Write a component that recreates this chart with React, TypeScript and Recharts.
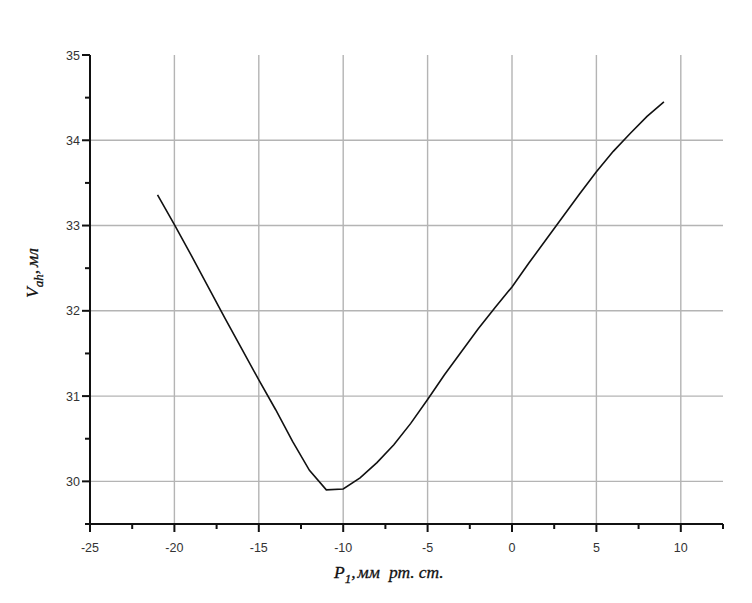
import React from "react";
import { LineChart, Line, XAxis, YAxis, ReferenceLine, Label } from "recharts";

// P1, мм рт. ст.
const pressure = [
  -21, -20, -19, -18, -17, -16, -15, -14, -13, -12, -11, -10, -9, -8, -7, -6, -5, -4, -3, -2,
  -1, 0, 1, 2, 3, 4, 5, 6, 7, 8, 9,
];
// V, мл
const volume = [
  33.36, 33.01, 32.65, 32.28, 31.91, 31.55, 31.19, 30.84, 30.47, 30.13, 29.9, 29.91, 30.04,
  30.22, 30.43, 30.68, 30.96, 31.25, 31.52, 31.79, 32.04, 32.28, 32.56, 32.83, 33.1, 33.37,
  33.63, 33.87, 34.08, 34.28, 34.45,
];

const xTicks = [-25, -22.5, -20, -17.5, -15, -12.5, -10, -7.5, -5, -2.5, 0, 2.5, 5, 7.5, 10, 12.5];
const xMajor = [-25, -20, -15, -10, -5, 0, 5, 10];
const yTicks = [29.5, 30, 30.5, 31, 31.5, 32, 32.5, 33, 33.5, 34, 34.5, 35];
const yMajor = [30, 31, 32, 33, 34, 35];
const xGrid = [-20, -15, -10, -5, 0, 5, 10];
const yGrid = [30, 31, 32, 33, 34];

const data = pressure.map((p, i) => ({ p, v: volume[i] }));

const TICK_FONT = { fontFamily: "'Liberation Sans', Arial, sans-serif", fontSize: 12.5, fill: "#333" };
const LABEL_FONT = {
  fontFamily: "'Liberation Serif', 'Times New Roman', serif",
  fontStyle: "italic",
  fontSize: 17.5,
  fill: "#111",
  stroke: "#111",
  strokeWidth: 0.3,
};

function XTick({ x, y, payload }: any) {
  const major = xMajor.includes(payload.value);
  return (
    <g>
      <line x1={x} x2={x} y1={y} y2={y + (major ? 8 : 5)} stroke="#111" strokeWidth={2} />
      {major && (
        <text x={x} y={y + 28} textAnchor="middle" {...TICK_FONT}>
          {payload.value}
        </text>
      )}
    </g>
  );
}

function YTick({ x, y, payload }: any) {
  const major = yMajor.includes(payload.value);
  return (
    <g>
      <line x1={x} x2={x - (major ? 8 : 5)} y1={y} y2={y} stroke="#111" strokeWidth={2} />
      {major && (
        <text x={x - 10} y={y + 4.5} textAnchor="end" {...TICK_FONT}>
          {payload.value}
        </text>
      )}
    </g>
  );
}

function XTitle() {
  return (
    <text x={334} y={578} {...LABEL_FONT}>
      P<tspan dy={5} fontSize={13}>1</tspan>
      <tspan dy={-5}>,</tspan>
      <tspan dx={2}>мм</tspan>
      <tspan dx={9}>рт.</tspan>
      <tspan dx={4}>ст.</tspan>
    </text>
  );
}

function YTitle() {
  return (
    <text transform="translate(38, 298) rotate(-90)" {...LABEL_FONT}>
      V<tspan dy={5} fontSize={13}>ah</tspan>
      <tspan dy={-5}>,</tspan>
      <tspan dx={3}>мл</tspan>
    </text>
  );
}

export default function App() {
  return (
    <div style={{ position: "absolute", left: 0, top: 0, width: 752, height: 603, background: "#fff" }}>
      <LineChart
        width={752}
        height={603}
        data={data}
        margin={{ top: 55, right: 29, bottom: 49, left: 50 }}
      >
        {xGrid.map((g) => (
          <ReferenceLine key={"x" + g} x={g} stroke="#b4b4b4" strokeWidth={1.4} />
        ))}
        {yGrid.map((g) => (
          <ReferenceLine key={"y" + g} y={g} stroke="#b4b4b4" strokeWidth={1.4} />
        ))}
        <XAxis
          dataKey="p"
          type="number"
          domain={[-25, 12.5]}
          ticks={xTicks}
          interval={0}
          tickLine={false}
          tickSize={0}
          tickMargin={0}
          height={30}
          axisLine={{ stroke: "#111", strokeWidth: 2 }}
          tick={<XTick />}
        >
          <Label content={<XTitle />} />
        </XAxis>
        <YAxis
          dataKey="v"
          type="number"
          domain={[29.5, 35]}
          ticks={yTicks}
          interval={0}
          tickLine={false}
          tickSize={0}
          tickMargin={0}
          width={40}
          axisLine={{ stroke: "#111", strokeWidth: 2 }}
          tick={<YTick />}
        >
          <Label content={<YTitle />} />
        </YAxis>
        <Line
          dataKey="v"
          type="linear"
          stroke="#111"
          strokeWidth={1.6}
          dot={false}
          isAnimationActive={false}
        />
      </LineChart>
    </div>
  );
}
